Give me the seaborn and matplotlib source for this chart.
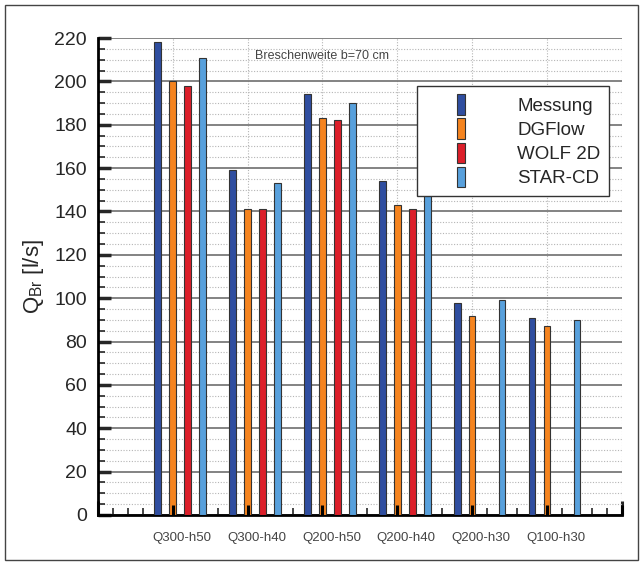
import numpy as np
import pandas as pd
import matplotlib
matplotlib.use("Agg")
import matplotlib.pyplot as plt
from matplotlib.patches import Patch, Rectangle
from matplotlib.ticker import MultipleLocator
import seaborn as sns

# Daten
faelle = ["Q300-h50", "Q300-h40", "Q200-h50", "Q200-h40", "Q200-h30", "Q100-h30"]
serien = ["Messung", "DGFlow", "WOLF 2D", "STAR-CD"]
messung = [218, 159, 194, 154, 98, 91]
dgflow = [200, 141, 183, 143, 92, 87]
wolf2d = [198, 141, 182, 141, np.nan, np.nan]
starcd = [211, 153, 190, 148, 99, 90]
farben = ["#2f4ea0", "#f5841f", "#dc1f2a", "#58a0dc"]

werte = [messung, dgflow, wolf2d, starcd]
zeilen = []
for j, name in enumerate(serien):
    for i, fall in enumerate(faelle):
        zeilen.append({"pos": 4 + 5 * i + j, "Q": werte[j][i], "serie": name})
df = pd.DataFrame(zeilen)

sns.set_style("white")
plt.rcParams['font.family'] = ['Liberation Sans', 'DejaVu Sans']

fig = plt.figure(figsize=(6.43, 5.65), dpi=100)
ax = fig.add_axes([0.1524, 0.0885, 0.8146, 0.8442])

sns.barplot(data=df, x="pos", y="Q", hue="serie", palette=farben, saturation=1,
            native_scale=True, dodge=False, width=0.45,
            edgecolor="#333333", linewidth=0.8, legend=False, ax=ax, zorder=3)

ax.set_xlim(0, 35)
ax.set_ylim(0, 220)
ax.yaxis.set_major_locator(MultipleLocator(20))
ax.yaxis.set_minor_locator(MultipleLocator(5))
ax.xaxis.set_major_locator(MultipleLocator(5))
ax.xaxis.set_minor_locator(MultipleLocator(1))
ax.set_xticklabels([])
ax.set_xlabel("")

ax.grid(axis="y", which="major", color="#7a7a7a", lw=1.3, zorder=0)
ax.grid(axis="y", which="minor", color="#b5b5b5", lw=0.8, ls=(0, (1, 1.5)), zorder=0)
ax.grid(axis="x", which="major", color="#b5b5b5", lw=0.8, ls=(0, (1, 1.5)), zorder=0)
ax.set_axisbelow(True)

for s in ["top", "right"]:
    ax.spines[s].set_visible(False)
for s in ["left", "bottom"]:
    ax.spines[s].set_color("black")
    ax.spines[s].set_linewidth(2)

ax.tick_params(axis="y", which="major", direction="in", length=9, width=2.5,
               labelsize=14, pad=8, left=True)
ax.tick_params(axis="y", which="minor", direction="in", length=5, width=1.2, left=True)
ax.tick_params(axis="x", which="major", direction="in", length=10, width=2.2, bottom=True)
ax.tick_params(axis="x", which="minor", direction="in", length=5, width=1.2, bottom=True)

# Hauptstriche der x-Achse ueber den Balken
xmaj = [t for t in ax.get_xticks() if 0 < t <= 35]
ax.vlines(xmaj, 0, 4.8, colors="black", lw=2.2, zorder=5, clip_on=False)

for i, fall in enumerate(faelle):
    ax.text(5.6 + 5 * i, -8, fall, ha="center", va="top", fontsize=9.5, color="#444444")

ax.set_ylabel(r"Q$_{\mathregular{Br}}$ [l/s]", fontsize=16, labelpad=6)
ax.text(0.3, 0.962, "Breschenweite b=70 cm", transform=ax.transAxes,
        fontsize=9, color="#444444", ha="left", va="center")

griffe = [Patch(facecolor=c, edgecolor="#333333", lw=0.8) for c in farben]
leg = ax.legend(griffe, serien, loc="upper left", bbox_to_anchor=(0.609, 0.9),
                frameon=True, fancybox=False, fontsize=13.5, handlelength=0.4,
                handleheight=1.3, handletextpad=4.5, labelspacing=0.2,
                borderpad=0.45, borderaxespad=0, framealpha=1)
leg.get_frame().set_edgecolor("#333333")
leg.get_frame().set_linewidth(1)
leg.set_zorder(6)
for h in leg.legend_handles:
    h.set_x(h.get_x() + 23)

fig.patches.append(Rectangle((0.008, 0.008), 0.984, 0.984, transform=fig.transFigure,
                             fill=False, edgecolor="#444444", lw=1))

fig.savefig("out.png", dpi=100)
